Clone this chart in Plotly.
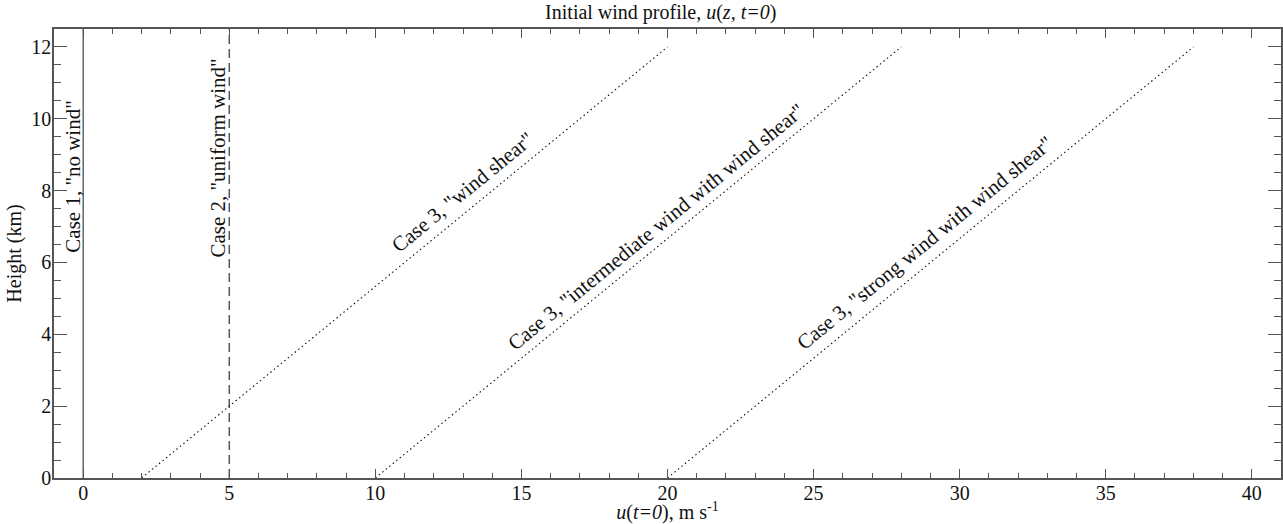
import plotly.graph_objects as go

# Data
height_full = [0, 12.5]          # km, vertical profiles span whole domain
u_case1 = [0, 0]                 # m/s, "no wind"
u_case2 = [5, 5]                 # m/s, "uniform wind"
height_shear = [0, 12]           # km
u_shear = [2, 20]                # m/s, "wind shear"
u_intermediate = [10, 28]        # m/s, "intermediate wind with wind shear"
u_strong = [20, 38]              # m/s, "strong wind with wind shear"

labels = [
    'Case 1, "no wind"',
    'Case 2, "uniform wind"',
    'Case 3, "wind shear"',
    'Case 3, "intermediate wind with wind shear"',
    'Case 3, "strong wind with wind shear"',
]
label_x = [-0.36, 4.6, 13.0, 19.6, 28.8]
label_y = [8.38, 8.91, 7.95, 7.0, 6.55]
label_angle = [-90, -90, -39.3, -39.3, -39.3]

FONT = "Liberation Serif, Times New Roman, serif"
AXC = "#555555"

fig = go.Figure()
fig.add_trace(go.Scatter(x=u_case1, y=height_full, mode="lines",
                         line=dict(color="#666666", width=1.5), showlegend=False))
fig.add_trace(go.Scatter(x=u_case2, y=height_full, mode="lines",
                         line=dict(color="#555555", width=1.5, dash="9px,5px"), showlegend=False))
for u in (u_shear, u_intermediate, u_strong):
    fig.add_trace(go.Scatter(x=u, y=height_shear, mode="lines",
                             line=dict(color="#111111", width=1.1, dash="1.5px,3px"),
                             showlegend=False))

for t, x, y, a in zip(labels, label_x, label_y, label_angle):
    fig.add_annotation(x=x, y=y, xref="x", yref="y", text=t, textangle=a,
                       showarrow=False, xanchor="center", yanchor="middle",
                       font=dict(family=FONT, size=21, color="#111111"))

fig.update_layout(
    width=1283, height=524,
    margin=dict(l=54, r=2, t=29, b=46),
    plot_bgcolor="white", paper_bgcolor="white",
    font=dict(family=FONT, size=20, color="#111111"),
    title=dict(text="Initial wind profile, <i>u</i>(<i>z, t=0</i>)",
               x=0.515, xanchor="center", y=0.99, yanchor="top",
               font=dict(family=FONT, size=20, color="#111111")),
)
fig.update_xaxes(
    range=[-1, 41], tickvals=[0, 5, 10, 15, 20, 25, 30, 35, 40],
    ticks="inside", ticklen=9, tickwidth=1.2, tickcolor=AXC,
    minor=dict(dtick=1, ticks="inside", ticklen=5, tickwidth=1.2, tickcolor=AXC),
    showline=True, linecolor=AXC, linewidth=1.5, mirror="ticks",
    showgrid=False, zeroline=False, automargin=False, ticklabelstandoff=-4,
    tickfont=dict(family=FONT, size=20, color="#111111"),
    title=dict(text="<i>u</i>(<i>t=0</i>), m s<sup>-1</sup>", standoff=5,
               font=dict(family=FONT, size=20, color="#111111")),
)
fig.update_yaxes(
    range=[0, 12.5], tickvals=[0, 2, 4, 6, 8, 10, 12],
    ticks="inside", ticklen=13, tickwidth=1.2, tickcolor=AXC,
    minor=dict(dtick=0.5, ticks="inside", ticklen=7, tickwidth=1.2, tickcolor=AXC),
    showline=True, linecolor=AXC, linewidth=1.5, mirror="ticks",
    showgrid=False, zeroline=False, automargin=False, ticklabelstandoff=-3,
    tickfont=dict(family=FONT, size=20, color="#111111"),
    title=dict(text="Height (km)", standoff=4,
               font=dict(family=FONT, size=20, color="#111111")),
)

fig.write_html("out.html")
